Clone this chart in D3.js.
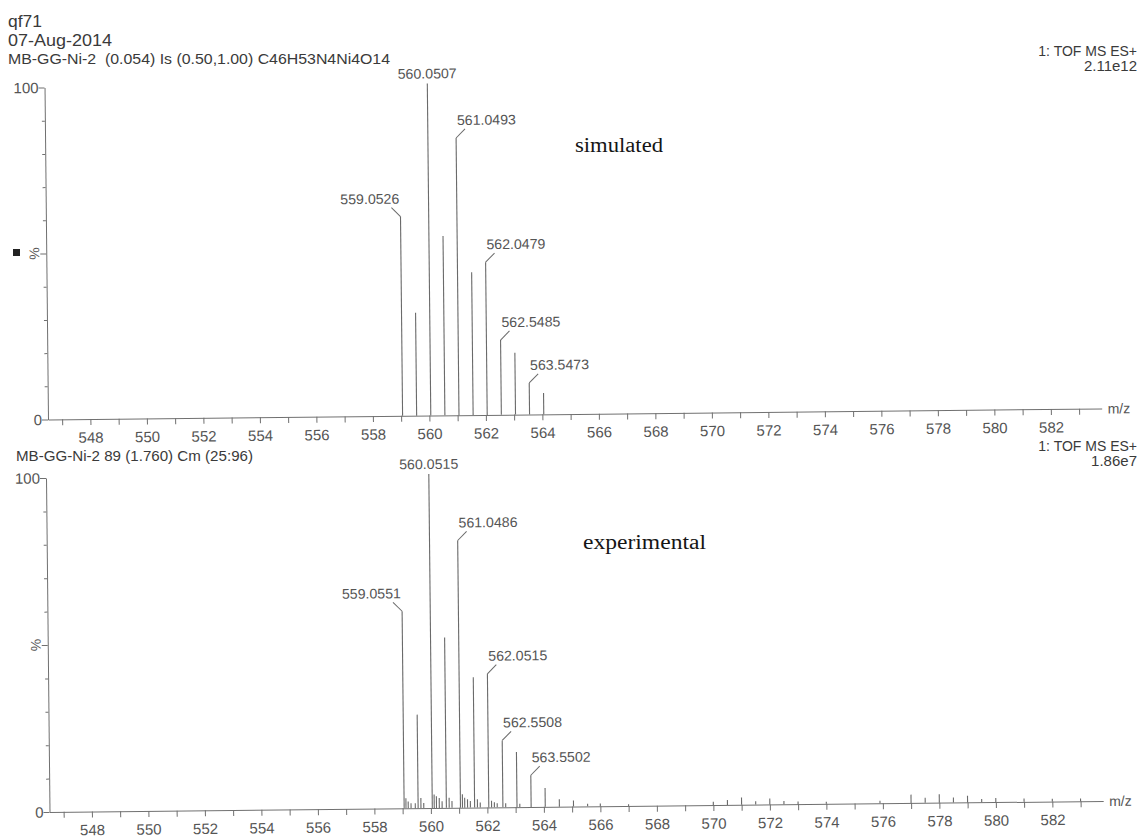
<!DOCTYPE html>
<html>
<head>
<meta charset="utf-8">
<script src="https://cdn.jsdelivr.net/npm/d3@7"></script>
<style>
  html, body { margin: 0; padding: 0; background: #fff; }
  svg { display: block; }
  text { white-space: pre; }
</style>
</head>
<body>
<div id="chart"></div>
<script>
// m/z axis ticks (every unit, labelled on even values)
const mzTicks = d3.range(547, 584);
const pctTicks = d3.range(0, 101, 10);

// simulated isotope pattern
const simMz = [559.0526, 559.55, 560.0507, 560.55, 561.0493, 561.55, 562.0479, 562.5485, 563.05, 563.5473, 564.05];
const simInt = [60, 31, 100, 54, 83.5, 43, 46, 22.5, 18.6, 9.5, 6.4];
const simLabels = ["559.0526", "560.0507", "561.0493", "562.0479", "562.5485", "563.5473"];

// experimental spectrum (main peaks + small noise)
const expMz = [559.0551, 559.55, 560.0515, 560.55, 561.0486, 561.55, 562.0515, 562.5508, 563.05, 563.5502, 564.05, 564.55, 565.05, 565.55,
  559.12, 559.2, 559.3, 559.45, 559.65, 559.75, 560.12, 560.2, 560.3, 560.4, 560.65, 560.75,
  561.12, 561.2, 561.3, 561.4, 561.65, 561.75, 562.15, 562.25, 562.35, 562.65, 563.15,
  566.0, 567.0, 570.0, 570.5, 571.0, 571.5, 572.0, 572.5, 573.0, 574.0, 575.9,
  577.0, 577.5, 578.0, 578.5, 579.0, 579.5, 580.0, 581.0, 582.0, 583.0];
const expInt = [59, 28, 100, 51, 80, 39, 40, 20, 16.5, 9.5, 5.6, 2.2, 1.8, 0.8,
  3, 2, 1.5, 1.5, 3, 1.5, 4, 3.5, 3, 2, 3, 2,
  4, 3, 2.5, 2, 2.5, 1.5, 2, 1.5, 1.2, 1.2, 1,
  0.8, 0.5, 1, 1.5, 2.2, 1, 1.8, 1, 0.8, 0.6, 0.8,
  2.5, 1.5, 2.5, 1.5, 2, 1, 1.2, 1, 0.8, 0.8];
const expLabels = ["559.0551", "560.0515", "561.0486", "562.0515", "562.5508", "563.5502"];

const W = 1145, H = 838;
const sans = "'Liberation Sans', Arial, sans-serif";
const serif = "'Liberation Serif', 'Times New Roman', serif";
const inkText = "#3a3a3a";
const inkLine = "#707070";

const svg = d3.select("#chart").append("svg")
  .attr("width", W).attr("height", H)
  .attr("viewBox", `0 0 ${W} ${H}`);

svg.append("rect").attr("width", W).attr("height", H).attr("fill", "#fff");

function addText(x, y, str, size, opts = {}) {
  const t = svg.append("text")
    .attr("x", x).attr("y", y)
    .attr("font-family", opts.family || sans)
    .attr("font-size", size)
    .attr("fill", opts.fill || inkText)
    .attr("text-anchor", opts.anchor || "start")
    .text(str);
  if (opts.len) t.attr("textLength", opts.len).attr("lengthAdjust", "spacingAndGlyphs");
  return t;
}

// headers
addText(8, 27, "qf71", 17, { len: 34 });
addText(8, 46, "07-Aug-2014", 17, { len: 104 });
addText(8, 64, "MB-GG-Ni-2  (0.054) Is (0.50,1.00) C46H53N4Ni4O14", 15, { len: 382 });
addText(1137, 56, "1: TOF MS ES+", 14);
addText(1137, 71, "2.11e12", 15, { anchor: "end" });

addText(16, 461, "MB-GG-Ni-2 89 (1.760) Cm (25:96)", 15, { len: 237 });
addText(1137, 451, "1: TOF MS ES+", 14);
addText(1137, 466, "1.86e7", 15, { anchor: "end" });

// right-align the two instrument lines
svg.selectAll("text").filter(function () { return this.textContent === "1: TOF MS ES+"; })
  .attr("text-anchor", "end");

addText(575, 152, "simulated", 20, { family: serif, fill: "#151515", len: 88 });
addText(583, 549, "experimental", 20, { family: serif, fill: "#151515", len: 123 });

svg.append("rect").attr("x", 13).attr("y", 249).attr("width", 7).attr("height", 7).attr("fill", "#222");

function drawPanel(opt) {
  const x = d3.scaleLinear().domain([546.5, 583.8]).range([opt.x0, opt.x0 + 37.3 * 28.25]);
  const y = d3.scaleLinear().domain([0, 100]).range([opt.y0, opt.y100]);

  const g = svg.append("g")
    .attr("transform", `rotate(-0.6, ${opt.x0}, ${opt.y0})`);

  // x axis
  const xAxis = d3.axisBottom(x)
    .tickValues(mzTicks)
    .tickSize(6)
    .tickSizeOuter(0)
    .tickPadding(7)
    .tickFormat(d => d % 2 === 0 ? d : "");
  const gx = g.append("g").attr("transform", `translate(0,${opt.y0})`).call(xAxis);
  gx.select(".domain").attr("stroke", inkLine);
  gx.selectAll(".tick line").attr("stroke", inkLine);
  gx.selectAll(".tick text")
    .attr("font-family", sans).attr("font-size", 15).attr("fill", "#555")
    .attr("dy", "0.71em");

  // y axis
  const yAxis = d3.axisLeft(y)
    .tickValues(pctTicks)
    .tickSize(0)
    .tickFormat("");
  const gy = g.append("g").attr("transform", `translate(${opt.x0},0)`).call(yAxis);
  gy.select(".domain").attr("stroke", inkLine);
  gy.selectAll(".tick line")
    .attr("x2", d => (d % 50 === 0 ? -6 : -3))
    .attr("stroke", inkLine);

  g.selectAll("text.ylab")
    .data([0, 100])
    .join("text")
    .attr("class", "ylab")
    .attr("x", opt.x0 - 6)
    .attr("y", d => y(d) + 5.5)
    .attr("text-anchor", "end")
    .attr("font-family", sans).attr("font-size", 15).attr("fill", "#555")
    .text(d => d);

  g.append("text")
    .attr("transform", `translate(${opt.x0 - 7},${y(50)}) rotate(-90)`)
    .attr("text-anchor", "middle")
    .attr("font-family", sans).attr("font-size", 14).attr("fill", "#555")
    .text("%");

  g.append("text")
    .attr("x", x(583.8) + 6).attr("y", opt.y0 + 5)
    .attr("font-family", sans).attr("font-size", 14).attr("fill", "#555")
    .text("m/z");

  // sticks
  const peaks = opt.mz.map((m, i) => ({ mz: m, int: opt.int[i] }));
  g.selectAll("line.stick")
    .data(peaks)
    .join("line")
    .attr("class", "stick")
    .attr("x1", d => x(d.mz)).attr("x2", d => x(d.mz))
    .attr("y1", y(0)).attr("y2", d => y(d.int))
    .attr("stroke", "#6a6a6a")
    .attr("stroke-width", 1.1);

  // peak labels with leaders
  const base = peaks.reduce((a, b) => (b.int > a.int ? b : a));
  const labelled = peaks.filter(p => opt.labels.includes(p.mz.toFixed(4)));
  labelled.forEach(p => {
    const px = x(p.mz), py = y(p.int);
    const txt = p.mz.toFixed(4);
    if (p === base) {
      g.append("text")
        .attr("x", px).attr("y", py - 5)
        .attr("text-anchor", "middle")
        .attr("font-family", sans).attr("font-size", 14).attr("fill", "#555")
        .attr("textLength", 59).attr("lengthAdjust", "spacingAndGlyphs")
        .text(txt);
      return;
    }
    const dir = p.mz < base.mz ? -1 : 1;
    g.append("path")
      .attr("d", d3.line()([[px, py], [px + dir * 9, py - 9]]))
      .attr("stroke", "#6a6a6a").attr("fill", "none");
    g.append("text")
      .attr("x", px + dir * 1).attr("y", py - 13)
      .attr("text-anchor", dir < 0 ? "end" : "start")
      .attr("font-family", sans).attr("font-size", 14).attr("fill", "#555")
      .attr("textLength", 59).attr("lengthAdjust", "spacingAndGlyphs")
      .text(txt);
  });
}

drawPanel({ x0: 48, y0: 419.5, y100: 87.5, mz: simMz, int: simInt, labels: simLabels });
drawPanel({ x0: 49.5, y0: 812, y100: 478, mz: expMz, int: expInt, labels: expLabels });
</script>
</body>
</html>
